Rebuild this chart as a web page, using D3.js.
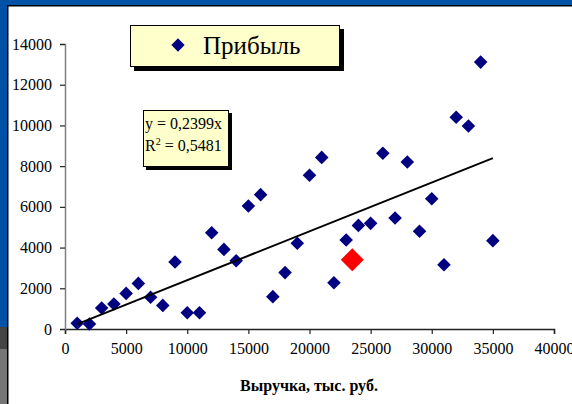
<!DOCTYPE html>
<html>
<head>
<meta charset="utf-8">
<script src="https://cdn.jsdelivr.net/npm/d3@7"></script>
<style>
  html, body { margin: 0; padding: 0; background: #fff; }
  svg { display: block; }
  text { font-family: "Liberation Serif", "Times New Roman", serif; }
</style>
</head>
<body>
<svg id="chart" width="572" height="404"></svg>
<script>
// Revenue (thousand rubles) and profit for each observation
const revenue = [1000, 2000, 3000, 4000, 5000, 6000, 7000, 8000, 9000, 10000,
                 11000, 12000, 13000, 14000, 15000, 16000, 17000, 18000, 19000, 20000,
                 21000, 22000, 23000, 24000, 25000, 26000, 27000, 28000, 29000, 30000,
                 31000, 32000, 33000, 34000, 35000];
const profit = [280, 250, 1030, 1230, 1750, 2240, 1560, 1160, 3290, 800,
                800, 4730, 3910, 3350, 6040, 6600, 1590, 2770, 4210, 7550,
                8430, 2270, 4370, 5090, 5190, 8630, 5450, 8200, 4800, 6400,
                3160, 10400, 9970, 13110, 4340];

// Highlighted observation
const highlightX = [23500];
const highlightY = [3400];

// Linear trend through the origin
const slope = 0.2399;
const rSquared = "0,5481";

const xTicks = [0, 5000, 10000, 15000, 20000, 25000, 30000, 35000, 40000];
const yTicks = [0, 2000, 4000, 6000, 8000, 10000, 12000, 14000];
const legendLabel = "Прибыль";
const xTitle = "Выручка, тыс. руб.";

const svg = d3.select("#chart");

// Window frame: blue band along the top and left edges
svg.append("rect").attr("x", 0).attr("y", 0).attr("width", 572).attr("height", 6).attr("fill", "#0052A6");
svg.append("rect").attr("x", 0).attr("y", 0).attr("width", 8).attr("height", 404).attr("fill", "#0052A6");
svg.append("rect").attr("x", 0).attr("y", 327).attr("width", 8).attr("height", 22).attr("fill", "#444444");
svg.append("rect").attr("x", 0).attr("y", 349).attr("width", 8).attr("height", 55).attr("fill", "#767676");
svg.append("rect").attr("x", 7).attr("y", 5).attr("width", 565).attr("height", 1.5).attr("fill", "#000");
svg.append("rect").attr("x", 7).attr("y", 5).attr("width", 1.5).attr("height", 399).attr("fill", "#000");

const x = d3.scaleLinear().domain([0, 40000]).range([65, 554]);
const y = d3.scaleLinear().domain([0, 14000]).range([329, 44]);

// Axes
const xAxis = svg.append("g")
  .attr("transform", `translate(0,${y(0)})`)
  .call(d3.axisBottom(x).tickValues(xTicks).tickFormat(d3.format("d")).tickSize(5).tickPadding(9));
xAxis.select(".domain").attr("stroke", "#222").attr("stroke-width", 1.5);
xAxis.selectAll(".tick line").attr("stroke", "#222").attr("stroke-width", 1.2);
xAxis.selectAll("text").attr("font-family", "Liberation Serif").attr("font-size", 16).attr("fill", "#000");

const yAxis = svg.append("g")
  .attr("transform", `translate(${x(0)},0)`)
  .call(d3.axisLeft(y).tickValues(yTicks).tickFormat(d3.format("d")).tickSize(5).tickPadding(8));
yAxis.select(".domain").attr("stroke", "#808080").attr("stroke-width", 1.5);
yAxis.selectAll(".tick line").attr("stroke", "#222").attr("stroke-width", 1.2);
yAxis.selectAll("text").attr("font-family", "Liberation Serif").attr("font-size", 16).attr("fill", "#000");

// Data points
const diamond = d3.symbol().type(d3.symbolSquare);
svg.append("g").selectAll("path")
  .data(revenue.map((r, i) => ({ r, p: profit[i] })))
  .join("path")
  .attr("d", diamond.size(92)())
  .attr("transform", d => `translate(${x(d.r)},${y(d.p)}) rotate(45)`)
  .attr("fill", "#000080");

// Trend line over the data range
const xExtent = d3.extent(revenue);
svg.append("path")
  .datum(xExtent.map(v => [v, slope * v]))
  .attr("d", d3.line().x(d => x(d[0])).y(d => y(d[1])))
  .attr("fill", "none")
  .attr("stroke", "#000")
  .attr("stroke-width", 2);

// Highlighted point
svg.append("g").selectAll("path")
  .data(highlightX.map((r, i) => ({ r, p: highlightY[i] })))
  .join("path")
  .attr("d", d3.symbol().type(d3.symbolSquare).size(265)())
  .attr("transform", d => `translate(${x(d.r)},${y(d.p)}) rotate(45)`)
  .attr("fill", "#FF0000");

// Legend box with drop shadow
const legend = svg.append("g");
legend.append("rect").attr("x", 134).attr("y", 29).attr("width", 210).attr("height", 42).attr("fill", "#000");
legend.append("rect").attr("x", 130.5).attr("y", 25.5).attr("width", 209).attr("height", 41)
  .attr("fill", "#FFFFCC").attr("stroke", "#000").attr("stroke-width", 1);
legend.append("path")
  .attr("d", d3.symbol().type(d3.symbolSquare).size(88)())
  .attr("transform", "translate(178,45) rotate(45)")
  .attr("fill", "#000080");
legend.append("text").attr("x", 203).attr("y", 54)
  .attr("font-size", 25).attr("fill", "#000").text(legendLabel);

// Trend equation box
const eq = svg.append("g");
eq.append("rect").attr("x", 146).attr("y", 113).attr("width", 86).attr("height", 57).attr("fill", "#000");
eq.append("rect").attr("x", 143.5).attr("y", 110.5).attr("width", 85).attr("height", 56)
  .attr("fill", "#FFFFCC").attr("stroke", "#000").attr("stroke-width", 1);
eq.append("text").attr("x", 145).attr("y", 129).attr("font-size", 16).attr("fill", "#000")
  .text(`y = ${String(slope).replace(".", ",")}x`);
const r2 = eq.append("text").attr("x", 145).attr("y", 151).attr("font-size", 16).attr("fill", "#000");
r2.append("tspan").text("R");
r2.append("tspan").attr("dy", -6).attr("font-size", 10).text("2");
r2.append("tspan").attr("dy", 6).text(` = ${rSquared}`);

// X axis title
svg.append("text").attr("x", 309).attr("y", 391).attr("text-anchor", "middle")
  .attr("font-size", 16).attr("font-weight", "bold").attr("fill", "#000").text(xTitle);
</script>
</body>
</html>
